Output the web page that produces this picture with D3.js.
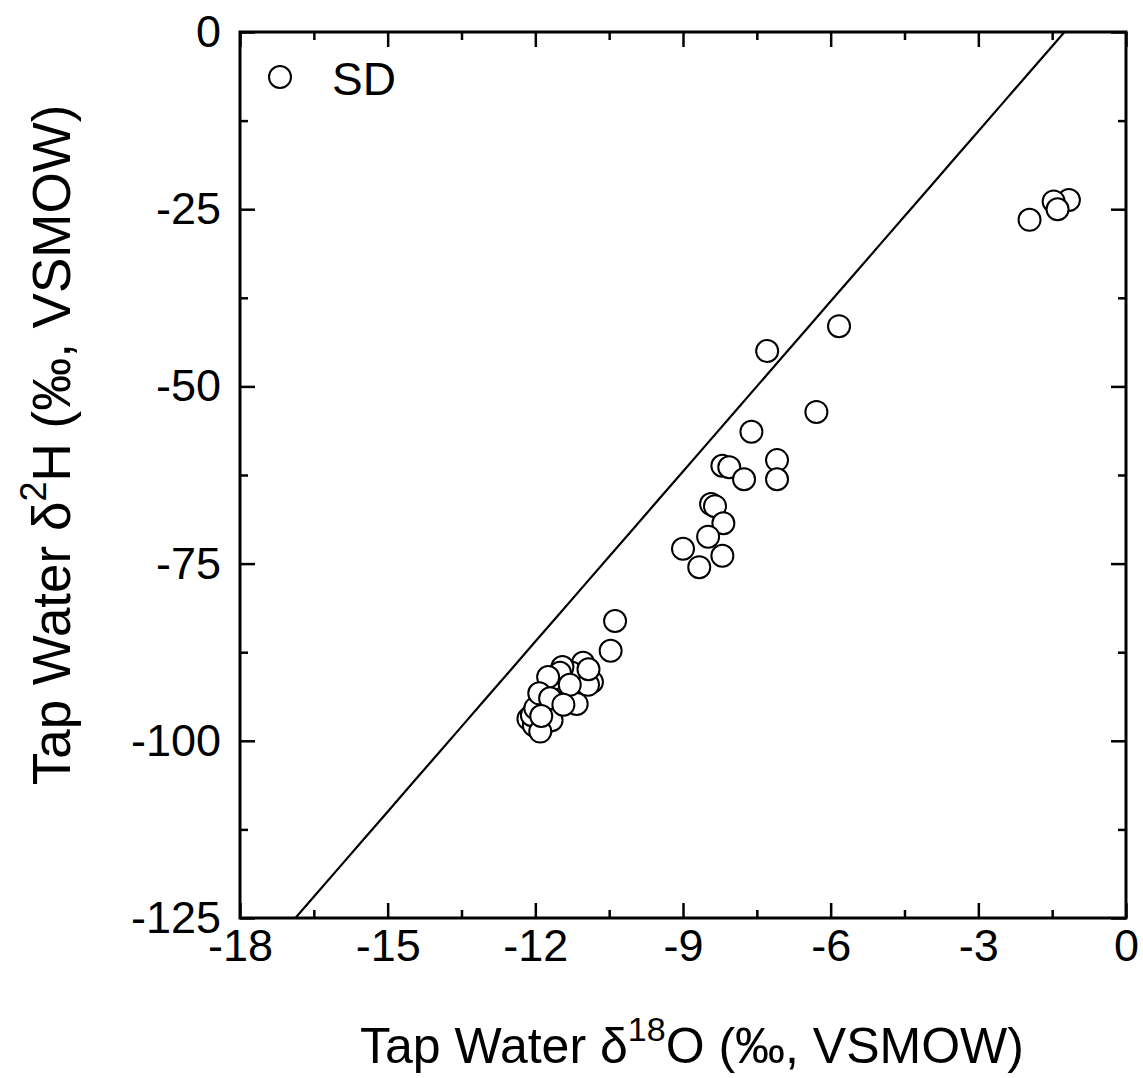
<!DOCTYPE html>
<html>
<head>
<meta charset="utf-8">
<script src="https://cdn.jsdelivr.net/npm/d3@7"></script>
<style>
  html, body { margin: 0; padding: 0; background: #fff; }
  svg { display: block; font-family: Arial, "Liberation Sans", sans-serif; }
</style>
</head>
<body>
<svg id="chart" width="1143" height="1078"></svg>
<script>
// Tap water isotope samples (SD): δ18O and δ2H in ‰ VSMOW
const d18O = [
  -1.16, -1.47, -1.39, -1.96,
  -5.83, -7.29, -6.29, -7.61, -7.09, -7.09,
  -8.20, -8.06, -7.76, -8.43, -8.35, -8.18, -8.49, -8.20, -9.00, -8.67,
  -10.38, -10.47,
  -11.03, -10.85, -11.26, -11.67, -11.45, -11.50, -11.74, -11.26, -10.93,
  -12.14, -12.03, -11.87, -11.67, -12.07, -12.00, -11.90, -11.16,
  -10.92, -11.30, -11.92, -11.70, -11.43, -11.88
];
const d2H = [
  -23.7, -23.9, -25.0, -26.5,
  -41.5, -45.0, -53.6, -56.4, -60.4, -63.1,
  -61.2, -61.4, -63.1, -66.6, -66.9, -69.3, -71.2, -73.9, -72.9, -75.5,
  -83.1, -87.3,
  -89.0, -91.7, -90.4, -91.4, -89.6, -90.4, -91.0, -92.8, -92.1,
  -96.9, -97.8, -98.1, -97.1, -96.4, -95.4, -98.7, -94.8,
  -89.9, -92.1, -93.3, -94.0, -94.9, -96.5
];

// Global meteoric water line: δ2H = 8·δ18O + 10
const gmwlSlope = 8;
const gmwlIntercept = 10;

const xDomain = [-18, 0];
const yDomain = [-125, 0];
const xMajorTicks = [-18, -15, -12, -9, -6, -3, 0];
const yMajorTicks = [-125, -100, -75, -50, -25, 0];
const xMinorTicks = [-16.5, -13.5, -10.5, -7.5, -4.5, -1.5];
const yMinorTicks = [-112.5, -87.5, -62.5, -37.5, -12.5];
const seriesName = "SD";

const svg = d3.select("#chart");
const plotL = 240, plotR = 1126, plotT = 32, plotB = 918;

const x = d3.scaleLinear().domain(xDomain).range([plotL, plotR]);
const y = d3.scaleLinear().domain(yDomain).range([plotB, plotT]);

// clip region for the reference line
svg.append("defs").append("clipPath").attr("id", "plotClip")
  .append("rect").attr("x", plotL).attr("y", plotT)
  .attr("width", plotR - plotL).attr("height", plotB - plotT);

// GMWL
const lineX = d3.range(-18, 0.001, 0.5);
svg.append("path")
  .attr("clip-path", "url(#plotClip)")
  .attr("d", d3.line().x(d => x(d)).y(d => y(gmwlSlope * d + gmwlIntercept))(lineX))
  .attr("fill", "none").attr("stroke", "#000").attr("stroke-width", 2.2);

// data points
const pts = d18O.map((v, i) => ({ x: v, y: d2H[i] }));
svg.append("g").selectAll("circle").data(pts).join("circle")
  .attr("cx", d => x(d.x)).attr("cy", d => y(d.y)).attr("r", 11)
  .attr("fill", "#fff").attr("stroke", "#000").attr("stroke-width", 2);

// axes: inward ticks on all four sides
const majorLen = 15, minorLen = 8, fs = 45;
const fmt = d => String(d);   // plain hyphen-minus
function styleAxis(g) {
  g.select(".domain").remove();
  g.selectAll("line").attr("stroke", "#000").attr("stroke-width", 2.5);
}
function styleLabels(g) {
  g.selectAll("text").attr("font-size", fs).attr("fill", "#000")
    .attr("font-family", "Arial, 'Liberation Sans', sans-serif");
}
svg.append("g").attr("transform", `translate(0,${plotB})`)
  .call(d3.axisBottom(x).tickValues(xMajorTicks).tickSize(-majorLen).tickPadding(11).tickFormat(fmt))
  .call(styleAxis).call(styleLabels);
svg.append("g").attr("transform", `translate(0,${plotB})`)
  .call(d3.axisBottom(x).tickValues(xMinorTicks).tickSize(-minorLen).tickFormat(""))
  .call(styleAxis);
svg.append("g").attr("transform", `translate(0,${plotT})`)
  .call(d3.axisTop(x).tickValues(xMajorTicks).tickSize(-majorLen).tickFormat(""))
  .call(styleAxis);
svg.append("g").attr("transform", `translate(0,${plotT})`)
  .call(d3.axisTop(x).tickValues(xMinorTicks).tickSize(-minorLen).tickFormat(""))
  .call(styleAxis);

svg.append("g").attr("transform", `translate(${plotL},0)`)
  .call(d3.axisLeft(y).tickValues(yMajorTicks).tickSize(-majorLen).tickPadding(19).tickFormat(fmt))
  .call(styleAxis).call(styleLabels);
svg.append("g").attr("transform", `translate(${plotL},0)`)
  .call(d3.axisLeft(y).tickValues(yMinorTicks).tickSize(-minorLen).tickFormat(""))
  .call(styleAxis);
svg.append("g").attr("transform", `translate(${plotR},0)`)
  .call(d3.axisRight(y).tickValues(yMajorTicks).tickSize(-majorLen).tickFormat(""))
  .call(styleAxis);
svg.append("g").attr("transform", `translate(${plotR},0)`)
  .call(d3.axisRight(y).tickValues(yMinorTicks).tickSize(-minorLen).tickFormat(""))
  .call(styleAxis);

// frame
svg.append("rect").attr("x", plotL).attr("y", plotT)
  .attr("width", plotR - plotL).attr("height", plotB - plotT)
  .attr("fill", "none").attr("stroke", "#000").attr("stroke-width", 3);

// legend
svg.append("circle").attr("cx", 280).attr("cy", 77).attr("r", 11)
  .attr("fill", "#fff").attr("stroke", "#000").attr("stroke-width", 2);
svg.append("text").attr("x", 332).attr("y", 95).attr("font-size", 46).text(seriesName);

// axis titles
function title(sel, pre, sup, post, size) {
  sel.append("tspan").text(pre);
  sel.append("tspan").attr("dy", -0.45 * size).attr("font-size", size * 0.68).text(sup);
  sel.append("tspan").attr("dy", 0.45 * size).text(post);
}
const xt = svg.append("text").attr("x", 692).attr("y", 1063)
  .attr("text-anchor", "middle").attr("font-size", 50);
title(xt, "Tap Water δ", "18", "O (‰, VSMOW)", 50);

const yt = svg.append("text")
  .attr("transform", `translate(70,445) rotate(-90)`)
  .attr("text-anchor", "middle").attr("font-size", 53);
title(yt, "Tap Water δ", "2", "H (‰, VSMOW)", 53);
</script>
</body>
</html>
